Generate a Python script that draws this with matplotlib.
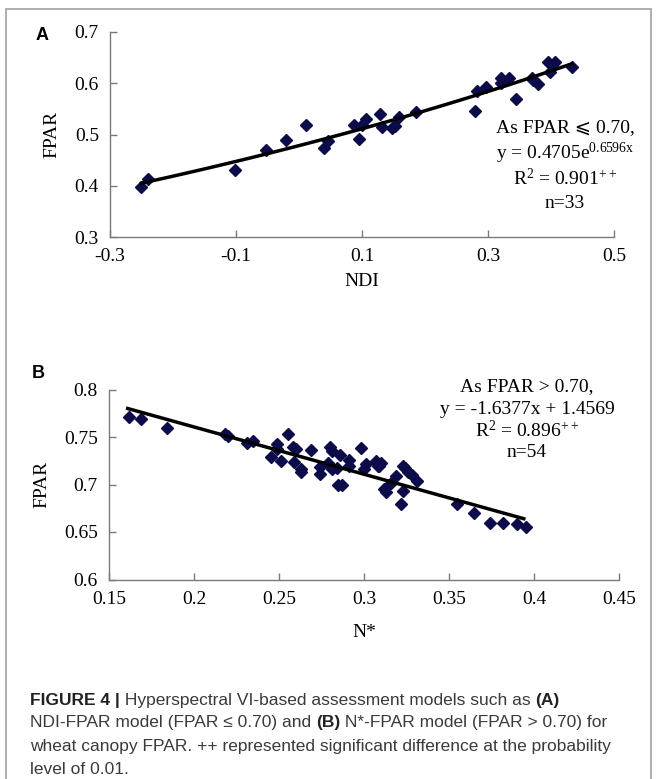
import numpy as np
import matplotlib
matplotlib.use("Agg")
import matplotlib.pyplot as plt
from matplotlib.patches import Rectangle
from matplotlib.ticker import FormatStrFormatter

# Panel A: NDI vs FPAR (FPAR <= 0.70)
ndi = [-0.251, -0.240, -0.102, -0.053, -0.021, 0.011, 0.039, 0.046, 0.088, 0.096,
       0.100, 0.106, 0.128, 0.132, 0.148, 0.153, 0.159, 0.186, 0.279, 0.282,
       0.297, 0.320, 0.321, 0.334, 0.344, 0.370, 0.379, 0.396, 0.406, 0.399,
       0.402, 0.433, 0.372]
fpar_a = [0.397, 0.413, 0.430, 0.470, 0.489, 0.518, 0.474, 0.488, 0.518, 0.492,
          0.518, 0.530, 0.540, 0.514, 0.512, 0.516, 0.535, 0.543, 0.546, 0.584,
          0.593, 0.610, 0.601, 0.611, 0.569, 0.611, 0.599, 0.642, 0.642, 0.621,
          0.636, 0.631, 0.607]
# trend line as drawn (read at its two ends)
trend_a_x = [-0.250, 0.433]
trend_a_y = [0.405, 0.638]

# Panel B: N* vs FPAR (FPAR > 0.70)
nstar = [0.1615, 0.169, 0.184, 0.218, 0.220, 0.231, 0.235, 0.245, 0.249, 0.249,
         0.251, 0.255, 0.258, 0.259, 0.260, 0.263, 0.263, 0.269, 0.274, 0.274,
         0.279, 0.280, 0.281, 0.281, 0.284, 0.286, 0.285, 0.287, 0.291, 0.291,
         0.298, 0.300, 0.301, 0.307, 0.308, 0.310, 0.309, 0.312, 0.313, 0.316,
         0.319, 0.323, 0.324, 0.323, 0.322, 0.326, 0.328, 0.331, 0.355, 0.365,
         0.374, 0.382, 0.390, 0.395]
fpar_b = [0.771, 0.769, 0.760, 0.753, 0.751, 0.744, 0.746, 0.729, 0.743, 0.737,
          0.725, 0.753, 0.739, 0.724, 0.737, 0.716, 0.713, 0.736, 0.718, 0.711,
          0.723, 0.739, 0.735, 0.716, 0.717, 0.731, 0.699, 0.700, 0.726, 0.719,
          0.738, 0.716, 0.722, 0.725, 0.720, 0.723, 0.719, 0.695, 0.692, 0.702,
          0.709, 0.719, 0.717, 0.693, 0.680, 0.713, 0.710, 0.704, 0.679, 0.670,
          0.660, 0.659, 0.658, 0.655]
trend_b_x = [0.161, 0.394]
trend_b_y = [0.780, 0.664]

xticks_a = [-0.3, -0.1, 0.1, 0.3, 0.5]
yticks_a = [0.3, 0.4, 0.5, 0.6, 0.7]
xticks_b = [0.15, 0.2, 0.25, 0.3, 0.35, 0.4, 0.45]
yticks_b = [0.6, 0.65, 0.7, 0.75, 0.8]

note_a = ["As FPAR \u2a7d 0.70,", "y = 0.4705e$^{0.6596x}$", "R$^{2}$ = 0.901$^{++}$", "n=33"]
note_b = ["As FPAR > 0.70,", "y = -1.6377x + 1.4569", "R$^{2}$ = 0.896$^{++}$", "n=54"]

plt.rcParams['font.family'] = ['Liberation Serif', 'DejaVu Serif', 'DejaVu Sans']
plt.rcParams['mathtext.fontset'] = 'custom'
plt.rcParams['mathtext.rm'] = 'Liberation Serif'
plt.rcParams['mathtext.it'] = 'Liberation Serif'
plt.rcParams['mathtext.default'] = 'regular'

W, H = 657, 779
fig = plt.figure(figsize=(W / 100, H / 100), dpi=100)

mk = dict(marker='D', linestyle='none', markersize=6, color='#0c0c4a')
spine_c = '#7a7a7a'


def style(ax):
    for s in ['top', 'right']:
        ax.spines[s].set_visible(False)
    for s in ['left', 'bottom']:
        ax.spines[s].set_color(spine_c)
        ax.spines[s].set_linewidth(1.0)
    ax.tick_params(direction='in', length=5, width=1, color=spine_c,
                   labelsize=14, pad=8)
    ax.xaxis.set_major_formatter(FormatStrFormatter('%g'))
    ax.yaxis.set_major_formatter(FormatStrFormatter('%g'))


# ---- panel A
axa = fig.add_axes([110 / W, 1 - 237 / H, 504 / W, 205 / H])
style(axa)
axa.plot(ndi, fpar_a, **mk)
# exponential curve through the two read ends
b = np.log(trend_a_y[1] / trend_a_y[0]) / (trend_a_x[1] - trend_a_x[0])
a = trend_a_y[0] / np.exp(b * trend_a_x[0])
xx = np.linspace(trend_a_x[0], trend_a_x[1], 100)
axa.plot(xx, a * np.exp(b * xx), color='black', lw=2.5)
axa.set_xlim(-0.3, 0.5)
axa.set_ylim(0.3, 0.7)
axa.set_xticks(xticks_a)
axa.set_yticks(yticks_a)
axa.set_xlabel('NDI', fontsize=14, labelpad=6)
axa.set_ylabel('FPAR', fontsize=14, labelpad=10)
for i, s in enumerate(note_a):
    fig.text(565 / W, 1 - (128 + 25 * i) / H, s, fontsize=14, ha='center', va='center')
fig.text(42 / W, 1 - 35 / H, 'A', family='Liberation Sans', fontweight='bold',
         fontsize=13, ha='center', va='center')

# ---- panel B
axb = fig.add_axes([109 / W, 1 - 579.5 / H, 510 / W, 190 / H])
style(axb)
axb.plot(nstar, fpar_b, **mk)
axb.plot(trend_b_x, trend_b_y, color='black', lw=2.5)
axb.set_xlim(0.15, 0.45)
axb.set_ylim(0.6, 0.8)
axb.set_xticks(xticks_b)
axb.set_yticks(yticks_b)
axb.set_xlabel('N*', fontsize=14, labelpad=12)
axb.set_ylabel('FPAR', fontsize=14, labelpad=10)
for i, s in enumerate(note_b):
    fig.text(527 / W, 1 - (387 + 22 * i) / H, s, fontsize=14, ha='center', va='center')
fig.text(38 / W, 1 - 373 / H, 'B', family='Liberation Sans', fontweight='bold',
         fontsize=13, ha='center', va='center')

# ---- frame round the figure
fig.add_artist(Rectangle((6 / W, -0.05), 645 / W, 1.05 - 9 / H, transform=fig.transFigure,
                         fill=False, edgecolor='#a8a8a8', lw=1.3))

# ---- caption with bold parts
cap = [
    [("FIGURE 4 |", 'bold'), (" Hyperspectral VI-based assessment models such as ", 'normal'), ("(A)", 'bold')],
    [("NDI-FPAR model (FPAR \u2264 0.70) and ", 'normal'), ("(B)", 'bold'), (" N*-FPAR model (FPAR > 0.70) for", 'normal')],
    [("wheat canopy FPAR. ++ represented significant difference at the probability", 'normal')],
    [("level of 0.01.", 'normal')],
]
cap_fam = ['Liberation Sans', 'DejaVu Sans']
renderer = fig.canvas.get_renderer()
for j, line in enumerate(cap):
    x = 30 / W
    y = 1 - (700 + 23 * j) / H
    for s, w in line:
        t = fig.text(x, y, s, family=cap_fam, fontweight=w, fontsize=12.5,
                     color='#222222' if w == 'bold' else '#3a3a3a', ha='left', va='center')
        x += t.get_window_extent(renderer).width / fig.bbox.width

fig.savefig('out.png', dpi=100)
